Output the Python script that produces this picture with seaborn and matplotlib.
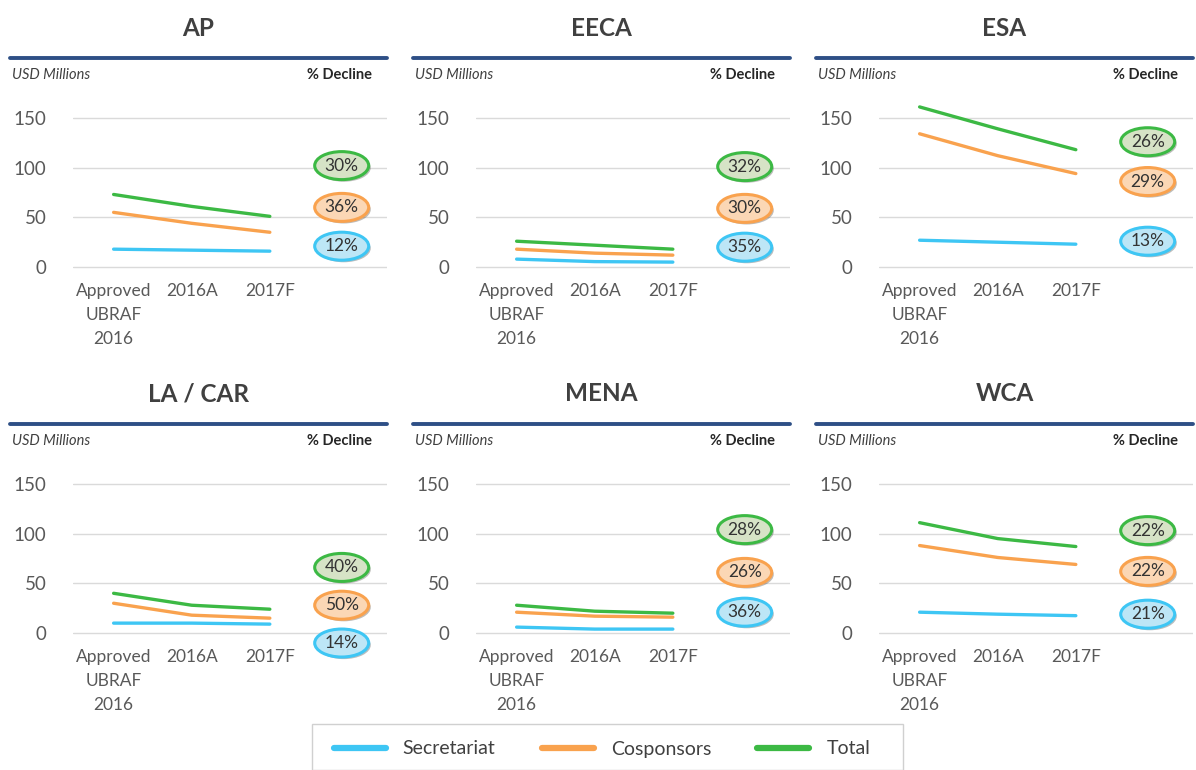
import numpy as np
import pandas as pd
import matplotlib
matplotlib.use("Agg")
import matplotlib.pyplot as plt
import seaborn as sns
from matplotlib.lines import Line2D
from matplotlib.patches import Ellipse, Rectangle
from matplotlib import patheffects as pe
from matplotlib import transforms as mtransforms

# Regional funding, USD millions
regions = ["AP", "EECA", "ESA", "LA / CAR", "MENA", "WCA"]
periods = ["Approved\nUBRAF\n2016", "2016A", "2017F"]
series_names = ["Secretariat", "Cosponsors", "Total"]

secretariat = [[18, 17, 16], [8, 5.5, 5], [27, 25, 23], [10, 10, 9], [6, 4, 4], [21, 19, 17.5]]
cosponsors = [[55, 44, 35], [18, 14, 12], [134, 112, 94], [30, 18, 15], [21, 17, 16], [88, 76, 69]]
total = [[73, 61, 51], [26, 22, 18], [161, 139, 118], [40, 28, 24], [28, 22, 20], [111, 95, 87]]

# % decline badges
decline_sec = [12, 35, 13, 14, 36, 21]
decline_cos = [36, 30, 29, 50, 26, 22]
decline_tot = [30, 32, 26, 40, 28, 22]

# badge vertical placement (data units), per region: total, cosponsors, secretariat
badge_y = [[102, 60, 21], [101, 59, 20], [126, 86, 26], [66, 28, -10], [104, 61, 21], [103, 62, 19]]

line_colors = {"Secretariat": "#3EC6F4", "Cosponsors": "#F9A24E", "Total": "#3CB944"}
badge_fill = {"Secretariat": "#BDE6F6", "Cosponsors": "#FBD7B5", "Total": "#D6E3C6"}

rows = []
for r, reg in enumerate(regions):
    for name, vals in zip(series_names, [secretariat, cosponsors, total]):
        for i, v in enumerate(vals[r]):
            rows.append({"region": reg, "series": name, "x": i, "value": v})
df = pd.DataFrame(rows)

sns.set_style("white")
plt.rcParams["font.family"] = ["Lato", "DejaVu Sans"]

fig = plt.figure(figsize=(11.96, 7.7), dpi=100)
W, H = 1196, 770

col_off = [0, 403, 806]
row_off = [0, 366]

for k, reg in enumerate(regions):
    r, c = divmod(k, 3)
    ox, oy = col_off[c], row_off[r]
    left, right = 73 + ox, 387 + ox
    top, bottom = 93 + oy, 282 + oy
    ax = fig.add_axes([left / W, 1 - bottom / H, (right - left) / W, (bottom - top) / H])
    sub = df[df.region == reg]
    sns.lineplot(data=sub, x="x", y="value", hue="series", palette=line_colors,
                 hue_order=series_names, lw=2.4, ax=ax, legend=False)
    for ln in ax.lines:
        ln.set_clip_on(False)
    ax.set_xlim(-0.52, 3.5)
    ax.set_ylim(-15, 175)
    ax.set_yticks([0, 50, 100, 150])
    ax.yaxis.grid(True, color="#DADADA", lw=1)
    ax.set_xticks(range(len(periods)))
    ax.set_xticklabels(periods, linespacing=1.6)
    ax.tick_params(axis="y", length=0, pad=19, labelsize=13.5, labelcolor="#595959")
    ax.tick_params(axis="x", length=0, pad=1, labelsize=12.5, labelcolor="#595959")
    ax.set_xlabel("")
    ax.set_ylabel("")
    for s in ax.spines.values():
        s.set_visible(False)
    ax.patch.set_alpha(0)

    # badges: fixed-size ellipses centred at a data position
    for name, pct, yv in zip(["Total", "Cosponsors", "Secretariat"],
                             [decline_tot[k], decline_cos[k], decline_sec[k]],
                             badge_y[k]):
        tr = mtransforms.IdentityTransform() + mtransforms.ScaledTranslation(2.92, yv, ax.transData)
        el = Ellipse((0, 0), 54, 28, transform=tr, fc=badge_fill[name],
                     ec=line_colors[name], lw=2.2, clip_on=False, zorder=5)
        el.set_path_effects([pe.SimplePatchShadow(offset=(1.5, -1.5), alpha=0.35), pe.Normal()])
        ax.add_artist(el)
        ax.text(2.92, yv, f"{pct}%", ha="center", va="center", fontsize=12.5,
                color="#333333", clip_on=False, zorder=6)

    # header: title, rule, small labels
    cx = (10 + 387) / 2 + ox
    fig.text(cx / W, 1 - (28 + oy) / H, reg, ha="center", va="center",
             fontsize=17.5, fontweight="bold", color="#404040")
    fig.add_artist(Line2D([(10 + ox) / W, min(387 + ox, W) / W],
                          [1 - (58 + oy) / H] * 2, color="#2E4F86", lw=2.8,
                          transform=fig.transFigure))
    fig.text((12 + ox) / W, 1 - (75 + oy) / H, "USD Millions", ha="left", va="center",
             fontsize=10.5, style="italic", color="#404040")
    fig.text((372 + ox) / W, 1 - (75 + oy) / H, "% Decline", ha="right", va="center",
             fontsize=10.5, fontweight="bold", color="#262626")

# legend box and entries
fig.add_artist(Rectangle((312 / W, 0), (903 - 312) / W, 1 - 724 / H, transform=fig.transFigure,
                         fill=False, ec="#D0D0D0", lw=1))
handles = [Line2D([], [], color=line_colors[n], lw=4.5) for n in series_names]
leg = fig.legend(handles, series_names, loc="center",
                 bbox_to_anchor=(602 / W, 1 - 749 / H), ncol=3, fontsize=14,
                 handlelength=2.68, handletextpad=0.88, columnspacing=2.37,
                 frameon=False, borderpad=0, borderaxespad=0)
for t in leg.get_texts():
    t.set_color("#404040")

fig.savefig("out.png", dpi=100)
